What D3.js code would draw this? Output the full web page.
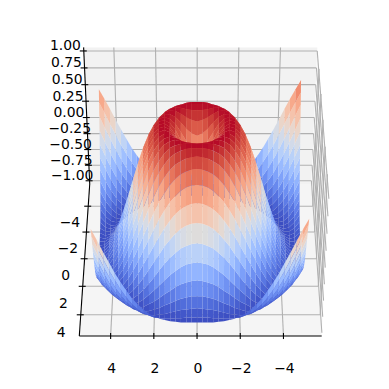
<!DOCTYPE html>
<html>

<head>
  <meta charset="UTF-8" />
  <title>surface</title>
  <script src="https://cdn.jsdelivr.net/npm/d3@7"></script>
  <style>
    html, body { margin: 0; padding: 0; background: #fff; }
    svg { display: block; }
    text { font-family: "DejaVu Sans"; font-size: 13.9px; fill: #000; }
  </style>
</head>

<body>
  <svg width="389" height="389"></svg>
  <script>
    // sample positions of the surface
    var gridX = [-5, -4.75, -4.5, -4.25, -4, -3.75, -3.5, -3.25, -3, -2.75, -2.5, -2.25, -2, -1.75, -1.5, -1.25, -1, -0.75, -0.5, -0.25,
      0, 0.25, 0.5, 0.75, 1, 1.25, 1.5, 1.75, 2, 2.25, 2.5, 2.75, 3, 3.25, 3.5, 3.75, 4, 4.25, 4.5, 4.75];
    var gridY = gridX;

    // z for one quarter of the surface, indexed by |x|/0.25 and |y|/0.25
    var zQuarter = [
      [0, .25, .48, .68, .84, .95, 1, .98, .91, .78, .6, .38, .14, -.11, -.35, -.57, -.76, -.89, -.98, -1, -.96],
      [.25, .35, .53, .71, .86, .96, 1, .98, .9, .77, .59, .37, .13, -.12, -.36, -.58, -.76, -.9, -.98, -1, -.96],
      [.48, .53, .65, .78, .9, .97, 1, .97, .88, .74, .56, .34, .1, -.15, -.38, -.6, -.78, -.91, -.98, -1, -.95],
      [.68, .71, .78, .87, .95, .99, .99, .94, .84, .7, .51, .29, .05, -.19, -.42, -.63, -.8, -.92, -.99, -1, -.94],
      [.84, .86, .9, .95, .99, 1, .97, .9, .79, .63, .43, .22, -.02, -.26, -.48, -.67, -.83, -.94, -.99, -.99, -.93],
      [.95, .96, .97, .99, 1, .98, .93, .84, .71, .54, .34, .12, -.11, -.33, -.54, -.73, -.87, -.96, -1, -.98, -.9],
      [1, 1, 1, .99, .97, .93, .85, .74, .6, .42, .22, .01, -.21, -.42, -.62, -.78, -.9, -.98, -1, -.96, -.87],
      [.98, .98, .97, .94, .9, .84, .74, .62, .47, .29, .09, -.12, -.33, -.52, -.7, -.84, -.94, -.99, -.99, -.94, -.83],
      [.91, .9, .88, .84, .79, .71, .6, .47, .31, .13, -.06, -.26, -.45, -.63, -.78, -.9, -.97, -1, -.98, -.9, -.78],
      [.78, .77, .74, .7, .63, .54, .42, .29, .13, -.04, -.22, -.4, -.57, -.73, -.85, -.94, -.99, -1, -.95, -.86, -.72],
      [.6, .59, .56, .51, .43, .34, .22, .09, -.06, -.22, -.38, -.54, -.69, -.82, -.92, -.98, -1, -.98, -.91, -.79, -.64],
      [.38, .37, .34, .29, .22, .12, .01, -.12, -.26, -.4, -.54, -.68, -.8, -.9, -.97, -1, -.99, -.94, -.85, -.71, -.55],
      [.14, .13, .1, .05, -.02, -.11, -.21, -.33, -.45, -.57, -.69, -.8, -.89, -.96, -.99, -1, -.96, -.88, -.77, -.62, -.44],
      [-.11, -.12, -.15, -.19, -.26, -.33, -.42, -.52, -.63, -.73, -.82, -.9, -.96, -.99, -1, -.97, -.9, -.8, -.67, -.5, -.32],
      [-.35, -.36, -.38, -.42, -.48, -.54, -.62, -.7, -.78, -.85, -.92, -.97, -.99, -1, -.97, -.91, -.82, -.7, -.55, -.37, -.18],
      [-.57, -.58, -.6, -.63, -.67, -.73, -.78, -.84, -.9, -.94, -.98, -1, -1, -.97, -.91, -.83, -.72, -.58, -.41, -.23, -.03],
      [-.76, -.76, -.78, -.8, -.83, -.87, -.9, -.94, -.97, -.99, -1, -.99, -.96, -.9, -.82, -.72, -.59, -.43, -.26, -.07, .12],
      [-.89, -.9, -.91, -.92, -.94, -.96, -.98, -.99, -1, -1, -.98, -.94, -.88, -.8, -.7, -.58, -.43, -.27, -.09, .09, .28],
      [-.98, -.98, -.98, -.99, -.99, -1, -1, -.99, -.98, -.95, -.91, -.85, -.77, -.67, -.55, -.41, -.26, -.09, .08, .26, .43],
      [-1, -1, -1, -1, -.99, -.98, -.96, -.94, -.9, -.86, -.79, -.71, -.62, -.5, -.37, -.23, -.07, .09, .26, .42, .57],
      [-.96, -.96, -.95, -.94, -.93, -.9, -.87, -.83, -.78, -.72, -.64, -.55, -.44, -.32, -.18, -.03, .12, .28, .43, .57, .71]
    ];

    var xTicks = [4, 2, 0, -2, -4];
    var yTicks = [-4, -2, 0, 2, 4];
    var zTicks = [1, 0.75, 0.5, 0.25, 0, -0.25, -0.5, -0.75, -1];

    // coolwarm colormap
    var cmStops = d3.range(33).map(function (i) { return i / 32; });
    var cmColors = ["#3b4cc0", "#445acc", "#4d68d7", "#5775e1", "#6282ea", "#6c8ef1", "#779af7", "#82a5fb", "#8db0fe", "#98b9ff",
      "#a3c2ff", "#aec9fd", "#b8d0f9", "#c2d5f4", "#ccd9ee", "#d5dbe6", "#dddddd", "#e5d8d1", "#ecd3c5", "#f1ccb9", "#f5c4ad",
      "#f7bba0", "#f7b194", "#f7a687", "#f49a7b", "#f18d6f", "#ec7f63", "#e57058", "#de604d", "#d55042", "#cb3e38", "#c0282f", "#b40426"];

    var svg = d3.select("svg");

    // view
    var elev = 39 * Math.PI / 180;
    var dist = 10, focal = 2000, cx = 200.5, cy = 189.1;
    var sinE = Math.sin(elev), cosE = Math.cos(elev);

    var xLim = [-5.77, 5.45], yLim = [-5.77, 5.45], zLim = [-1.052, 1.052];
    var xScale = d3.scaleLinear().domain(xLim).range([0.595, -0.595]);
    var yScale = d3.scaleLinear().domain(yLim).range([-0.595, 0.595]);
    var zScale = d3.scaleLinear().domain(zLim).range([-0.4464, 0.4464]);
    var color = d3.scaleLinear().domain(cmStops).range(cmColors);
    var colorNorm = d3.scaleLinear().domain([-1, 1]).range([0, 1]).clamp(true);

    function project(x, y, z) {
      var bx = xScale(x), by = yScale(y), bz = zScale(z);
      var w = dist - (by * cosE + bz * sinE);
      return {
        x: cx + focal * bx / w,
        y: cy - focal * (bz * cosE - by * sinE) / w,
        w: w
      };
    }

    var line = d3.line().x(function (p) { return p.x; }).y(function (p) { return p.y; });
    function seg(a, b) { return line([project(a[0], a[1], a[2]), project(b[0], b[1], b[2])]); }
    function poly(pts) {
      return line(pts.map(function (a) { return project(a[0], a[1], a[2]); })) + "Z";
    }

    var x0 = xLim[0], x1 = xLim[1], y0 = yLim[0], y1 = yLim[1], z0 = zLim[0], z1 = zLim[1];

    // panes
    var panes = [
      { fill: "#f2f2f2", pts: [[x1, y0, z0], [x0, y0, z0], [x0, y0, z1], [x1, y0, z1]] },
      { fill: "#f9f9f9", pts: [[x0, y0, z0], [x0, y1, z0], [x0, y1, z1], [x0, y0, z1]] },
      { fill: "#f5f5f5", pts: [[x1, y0, z0], [x0, y0, z0], [x0, y1, z0], [x1, y1, z0]] }
    ];
    svg.append("g").selectAll("path").data(panes).enter().append("path")
      .attr("d", function (d) { return poly(d.pts); })
      .attr("fill", function (d) { return d.fill; });

    // grid
    var gridLines = [];
    xTicks.forEach(function (t) {
      gridLines.push([[t, y1, z0], [t, y0, z0]], [[t, y0, z0], [t, y0, z1]]);
    });
    yTicks.forEach(function (t) {
      gridLines.push([[x1, t, z0], [x0, t, z0]], [[x0, t, z0], [x0, t, z1]]);
    });
    zTicks.forEach(function (t) {
      gridLines.push([[x1, y0, t], [x0, y0, t]], [[x0, y0, t], [x0, y1, t]]);
    });
    svg.append("g").selectAll("path").data(gridLines).enter().append("path")
      .attr("d", function (d) { return seg(d[0], d[1]); })
      .attr("fill", "none")
      .attr("stroke", "#b0b0b0")
      .attr("stroke-width", 1.1);

    // axis lines
    var axisLines = [
      [[x1, y1, z0], [x0, y1, z0]],
      [[x1, y1, z0], [x1, y0, z0]],
      [[x1, y0, z0], [x1, y0, z1]]
    ];
    svg.append("g").selectAll("path").data(axisLines).enter().append("path")
      .attr("d", function (d) { return seg(d[0], d[1]); })
      .attr("fill", "none")
      .attr("stroke", "#000")
      .attr("stroke-width", 1.1);

    // surface facets
    function zAt(x, y) { return zQuarter[Math.abs(x) * 4][Math.abs(y) * 4]; }
    var facets = [];
    d3.range(gridX.length - 1).forEach(function (i) {
      d3.range(gridY.length - 1).forEach(function (j) {
        var corners = [[gridX[i], gridY[j]], [gridX[i + 1], gridY[j]], [gridX[i + 1], gridY[j + 1]], [gridX[i], gridY[j + 1]]]
          .map(function (c) { return [c[0], c[1], zAt(c[0], c[1])]; });
        var pts = corners.map(function (c) { return project(c[0], c[1], c[2]); });
        facets.push({
          pts: pts,
          z: d3.mean(corners, function (c) { return c[2]; }),
          w: d3.mean(pts, function (p) { return p.w; })
        });
      });
    });
    facets.sort(function (a, b) { return b.w - a.w; });

    svg.append("g").selectAll("path").data(facets).enter().append("path")
      .attr("d", function (d) { return line(d.pts) + "Z"; })
      .attr("fill", function (d) { return color(colorNorm(d.z)); });

    // ticks and labels
    var ticks = svg.append("g").attr("stroke", "#000").attr("stroke-width", 1.1);
    var fmtInt = d3.format("d"), fmtZ = d3.format(".2f");

    xTicks.forEach(function (t) {
      var p = project(t, y1, z0);
      ticks.append("line").attr("x1", p.x).attr("x2", p.x).attr("y1", p.y - 3).attr("y2", p.y + 3);
      svg.append("text").attr("x", p.x + 1).attr("y", p.y + 37).attr("text-anchor", "middle").text(fmtInt(t));
    });
    yTicks.forEach(function (t) {
      var p = project(x1, t, z0);
      ticks.append("line").attr("x1", p.x - 4).attr("x2", p.x + 3).attr("y1", p.y).attr("y2", p.y);
      var q = project(x1 + 0.85, t + 1.2, z0);
      svg.append("text").attr("x", q.x).attr("y", q.y + 5).attr("text-anchor", "middle").text(fmtInt(t));
    });
    zTicks.forEach(function (t) {
      var p = project(x1, y0, t);
      ticks.append("line").attr("x1", p.x - 4).attr("x2", p.x + 3).attr("y1", p.y).attr("y2", p.y);
      var q = project(x1 + 0.88, y0, t);
      svg.append("text").attr("x", q.x).attr("y", q.y - 0.5).attr("text-anchor", "middle").text(fmtZ(t));
    });
  </script>
</body>

</html>
